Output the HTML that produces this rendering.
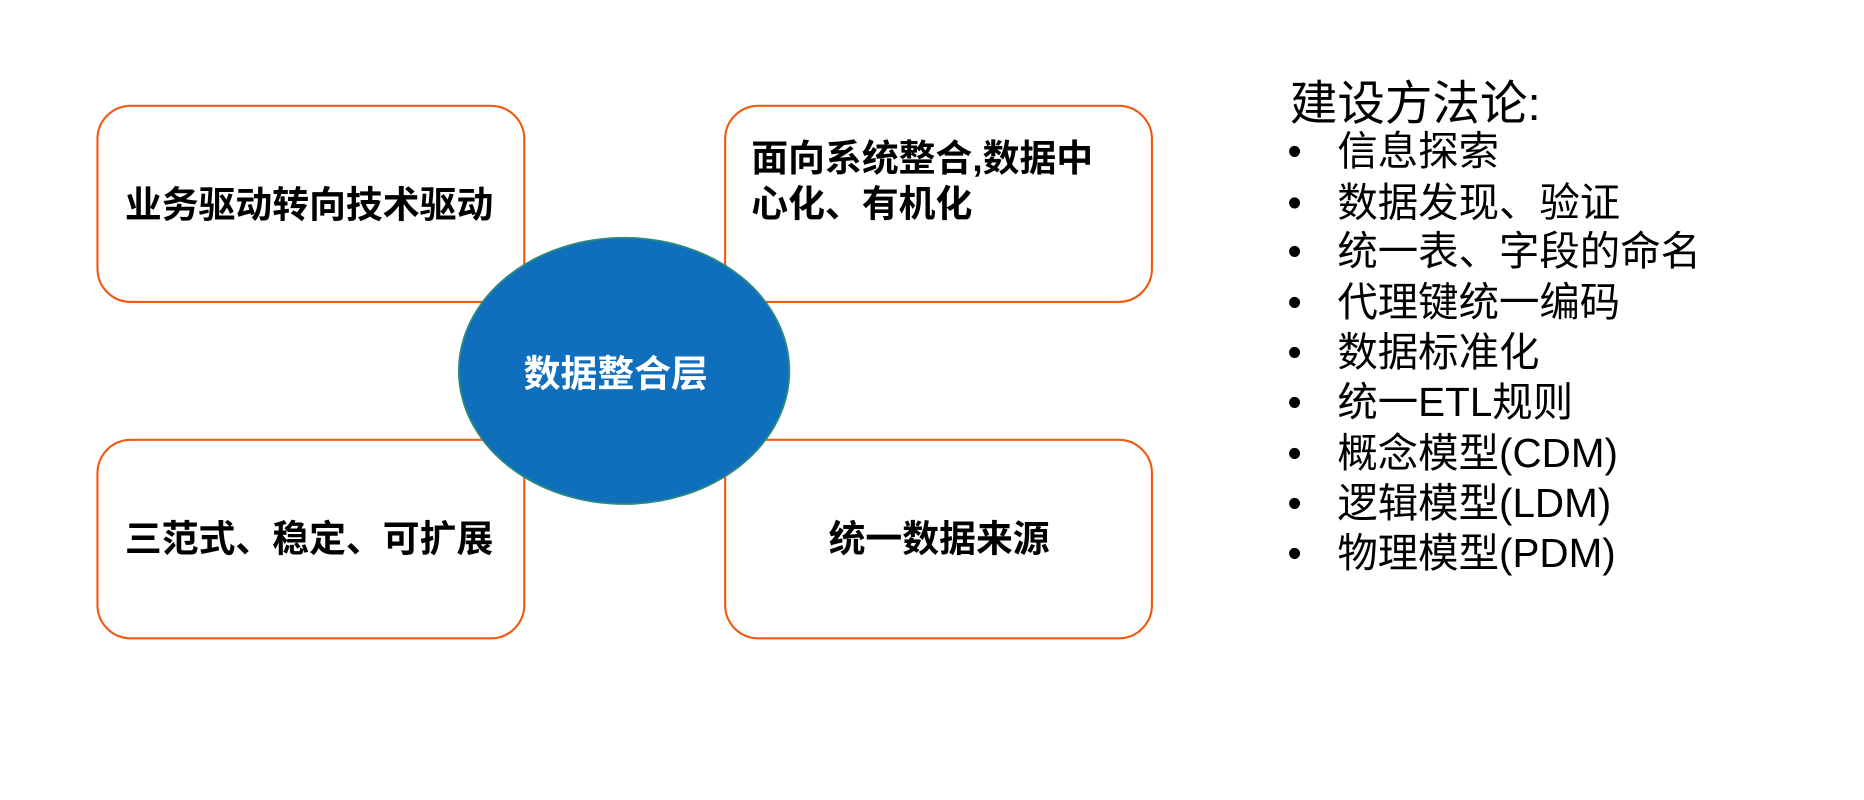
<!DOCTYPE html>
<html><head><meta charset="utf-8"><style>
html,body{margin:0;padding:0;background:#fff;}
svg{display:block;}
text{font-family:"Liberation Sans","Noto Sans CJK SC",sans-serif;}
.b{font-weight:bold;font-size:31px;fill:#000;}
.l{font-size:34px;fill:#000;}
</style></head><body>
<svg width="1864" height="800" viewBox="0 0 1568 673" preserveAspectRatio="none" xmlns="http://www.w3.org/2000/svg">
<rect x="82" y="89" width="359" height="165" rx="28" fill="#fff" stroke="#ED5B13" stroke-width="1.8"/>
<rect x="610" y="89" width="359" height="165" rx="28" fill="#fff" stroke="#ED5B13" stroke-width="1.8"/>
<rect x="82" y="370" width="359" height="167" rx="28" fill="#fff" stroke="#ED5B13" stroke-width="1.8"/>
<rect x="610" y="370" width="359" height="167" rx="28" fill="#fff" stroke="#ED5B13" stroke-width="1.8"/>
<ellipse cx="525" cy="312" rx="139" ry="112" fill="#0F6FBD" stroke="#2E8B7A" stroke-width="1.5"/>
<text class="b" x="260" y="183" text-anchor="middle">业务驱动转向技术驱动</text>
<text class="b" x="632" y="144">面向系统整合,数据中</text>
<text class="b" x="632" y="182">心化、有机化</text>
<text class="b" x="260" y="464" text-anchor="middle">三范式、稳定、可扩展</text>
<text class="b" x="790" y="464" text-anchor="middle">统一数据来源</text>
<text class="b" x="518" y="325" text-anchor="middle" style="fill:#fff">数据整合层</text>
<text x="1085" y="101" style="font-size:40px">建设方法论:</text>
<g class="l">
<text x="1083" y="139">•</text><text x="1125" y="139">信息探索</text>
<text x="1083" y="182">•</text><text x="1125" y="182">数据发现、验证</text>
<text x="1083" y="223">•</text><text x="1125" y="223">统一表、字段的命名</text>
<text x="1083" y="266">•</text><text x="1125" y="266">代理键统一编码</text>
<text x="1083" y="308">•</text><text x="1125" y="308">数据标准化</text>
<text x="1083" y="350">•</text><text x="1125" y="350">统一ETL规则</text>
<text x="1083" y="393">•</text><text x="1125" y="393">概念模型(CDM)</text>
<text x="1083" y="435">•</text><text x="1125" y="435">逻辑模型(LDM)</text>
<text x="1083" y="477">•</text><text x="1125" y="477">物理模型(PDM)</text>
</g>
</svg>
</body></html>
